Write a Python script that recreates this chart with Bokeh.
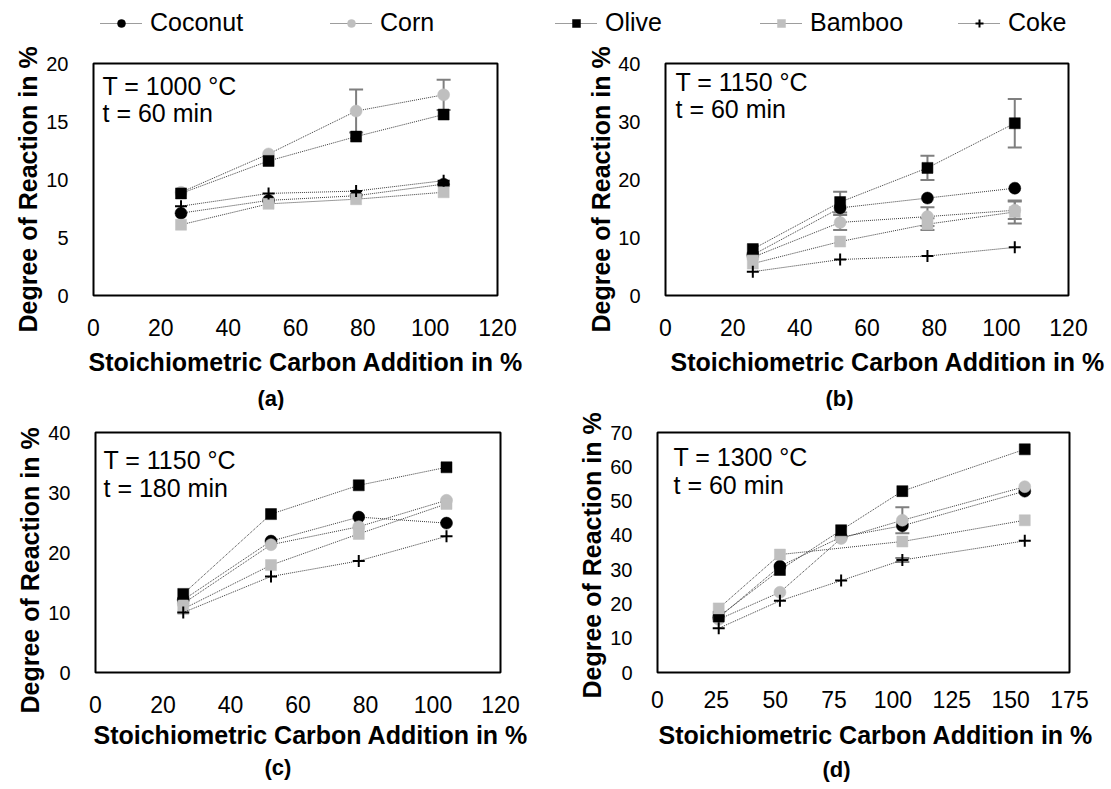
from bokeh.plotting import figure
from bokeh.layouts import column, row
from bokeh.models import (ColumnDataSource, Range1d, FixedTicker, Label, Title,
                          Legend, LegendItem, Whisker, TeeHead)
from bokeh.embed import file_html
from bokeh.resources import INLINE

# ---------------- data ----------------
series = ["Coconut", "Corn", "Olive", "Bamboo", "Coke"]

x_a = [26, 52, 78, 104]
a_coconut = [7.1, 8.2, 8.6, 9.6]
a_corn = [8.9, 12.2, 15.9, 17.3]
a_olive = [8.8, 11.6, 13.7, 15.6]
a_bamboo = [6.1, 7.9, 8.3, 8.9]
a_coke = [7.7, 8.8, 9.0, 9.9]
a_corn_err = [0, 0, 1.85, 1.3]

x_b = [26, 52, 78, 104]
b_coconut = [7.0, 15.1, 16.8, 18.5]
b_corn = [6.6, 12.6, 13.6, 14.7]
b_olive = [8.0, 16.1, 22.0, 29.7]
b_bamboo = [5.5, 9.3, 12.3, 14.4]
b_coke = [4.1, 6.2, 6.8, 8.3]
b_olive_err = [0, 1.8, 2.1, 4.2]
b_corn_err = [0, 1.3, 1.6, 1.5]
b_bamboo_err = [0, 0, 1.0, 2.0]

x_c = [26, 52, 78, 104]
c_coconut = [12.1, 21.9, 25.9, 24.9]
c_corn = [11.5, 21.3, 24.3, 28.7]
c_olive = [13.1, 26.4, 31.2, 34.2]
c_bamboo = [10.6, 17.9, 23.1, 28.1]
c_coke = [10.0, 16.0, 18.6, 22.7]

x_d = [26, 52, 78, 104, 156]
x_d_bamboo = [26, 52, 104, 156]
d_coconut = [16.0, 31.0, 39.5, 42.8, 52.9]
d_corn = [15.5, 23.4, 39.1, 44.4, 54.2]
d_olive = [16.3, 29.9, 41.5, 52.9, 65.1]
d_bamboo = [18.7, 34.4, 38.2, 44.4]
d_coke = [12.9, 20.9, 26.8, 32.8, 38.4]
d_corn_err = [0, 0, 0, 3.8, 0]
d_coke_err = [0, 0, 0, 0.6, 0]

x_ticks_abc = [0, 20, 40, 60, 80, 100, 120]
x_ticks_d = [0, 25, 50, 75, 100, 125, 150, 175]
y_ticks_a = [0, 5, 10, 15, 20]
y_ticks_bc = [0, 10, 20, 30, 40]
y_ticks_d = [0, 10, 20, 30, 40, 50, 60, 70]

x_title = "Stoichiometric Carbon Addition in %"
y_title = "Degree of Reaction in %"

# ---------------- styles ----------------
FONT = "Liberation Sans"
LINE_COLOR = "#3a3a3a"
style = {
    "Coconut": dict(marker="circle", color="black", size=12),
    "Corn": dict(marker="circle", color="#BFBFBF", size=12),
    "Olive": dict(marker="square", color="black", size=11),
    "Bamboo": dict(marker="square", color="#BFBFBF", size=11),
    "Coke": dict(marker="cross", color="black", size=12),
}


def draw_series(p, name, xs, ys, err=None):
    st = style[name]
    src = ColumnDataSource(dict(x=xs, y=ys))
    r_line = p.line("x", "y", source=src, line_color=LINE_COLOR, line_width=1,
                    line_dash="1 1")
    if err is not None:
        ex = [x for x, e in zip(xs, err) if e > 0]
        eu = [y + e for y, e in zip(ys, err) if e > 0]
        el = [y - e for y, e in zip(ys, err) if e > 0]
        esrc = ColumnDataSource(dict(base=ex, upper=eu, lower=el))
        w = Whisker(base="base", upper="upper", lower="lower", source=esrc,
                    dimension="height", line_color="#7F7F7F", line_width=2,
                    upper_head=TeeHead(size=14, line_color="#7F7F7F", line_width=2),
                    lower_head=TeeHead(size=14, line_color="#7F7F7F", line_width=2))
        p.add_layout(w)
    if st["marker"] == "cross":
        r_mark = p.scatter("x", "y", source=src, marker="cross", size=st["size"],
                           line_color="black", line_width=2)
    else:
        r_mark = p.scatter("x", "y", source=src, marker=st["marker"], size=st["size"],
                           fill_color=st["color"], line_color=st["color"], line_width=0.5)
    return r_line, r_mark


def make_panel(width, height, borders, xr, yr, xticks, yticks, cond, sub,
               text_dx, text_dy, ytitle_offset, ytitle_standoff, sub_offset, xstand,
               xtitle_offset, xtitle_standoff, sub_standoff):
    left, right, top, bottom = borders
    p = figure(width=width, height=height, output_backend="svg",
               toolbar_location=None, title=None,
               x_range=Range1d(*xr), y_range=Range1d(*yr),
               min_border_left=left, min_border_right=right,
               min_border_top=top, min_border_bottom=bottom)
    p.grid.visible = False
    p.outline_line_color = "black"
    p.outline_line_width = 2
    p.background_fill_color = "white"
    p.border_fill_color = "white"
    for ax in (p.xaxis[0], p.yaxis[0]):
        ax.axis_line_color = None
        ax.major_tick_line_color = None
        ax.minor_tick_line_color = None
        ax.major_tick_out = 0
        ax.major_tick_in = 0
        ax.minor_tick_out = 0
        ax.major_label_text_font = FONT
        ax.major_label_text_color = "black"
    p.xaxis.ticker = FixedTicker(ticks=xticks)
    p.yaxis.ticker = FixedTicker(ticks=yticks)
    p.xaxis.major_label_text_font_size = "23px"
    p.yaxis.major_label_text_font_size = "20px"
    p.xaxis.major_label_standoff = xstand
    p.yaxis.major_label_standoff = 25

    # axis titles as titles next to the axes (allows shifting them)
    xt = Title(text=x_title, align="left", offset=xtitle_offset, text_font=FONT,
               text_font_size="25px", text_font_style="bold",
               text_color="black", standoff=xtitle_standoff)
    p.add_layout(xt, "below")
    yt = Title(text=y_title, align="left", offset=ytitle_offset, text_font=FONT,
               text_font_size="25px", text_font_style="bold",
               text_color="black", standoff=ytitle_standoff)
    p.add_layout(yt, "left")

    t = Title(text=sub, align="left", offset=sub_offset, text_font=FONT,
              text_font_size="22px", text_font_style="bold",
              text_color="black", standoff=sub_standoff)
    p.add_layout(t, "below")

    fw = width - left - right
    fh = height - top - bottom
    px_x = (xr[1] - xr[0]) / fw
    px_y = (yr[1] - yr[0]) / fh
    for i, line in enumerate(cond):
        p.add_layout(Label(x=xr[0] + text_dx * px_x,
                           y=yr[1] - (text_dy + 28 * i) * px_y,
                           text=line, text_font=FONT, text_font_size="25px",
                           text_color="black", text_baseline="top",
                           text_align="left"))
    return p


# ---------------- panels ----------------
pa = make_panel(555, 365, (93, 58, 18, 107), (0, 120), (0, 20), x_ticks_abc,
                y_ticks_a, ["T = 1000 °C", "t = 60 min"], "(a)", 9, 9, -37, 4, 164,
                23, -5, 15, 0)
for nm, ys, er in [("Coconut", a_coconut, None), ("Corn", a_corn, a_corn_err),
                   ("Olive", a_olive, None), ("Bamboo", a_bamboo, None),
                   ("Coke", a_coke, None)]:
    draw_series(pa, nm, x_a, ys, er)

pb = make_panel(555, 365, (110, 42, 18, 107), (0, 120), (0, 40), x_ticks_abc,
                y_ticks_bc, ["T = 1150 °C", "t = 60 min"], "(b)", 10, 5, -37, 2, 160,
                23, 5, 15, 0)
for nm, ys, er in [("Coconut", b_coconut, None), ("Corn", b_corn, b_corn_err),
                   ("Olive", b_olive, b_olive_err), ("Bamboo", b_bamboo, b_bamboo_err),
                   ("Coke", b_coke, None)]:
    draw_series(pb, nm, x_b, ys, er)

pc = make_panel(555, 378, (95, 55, 22, 116), (0, 120), (0, 40), x_ticks_abc,
                y_ticks_bc, ["T = 1150 °C", "t = 180 min"], "(c)", 8, 13, -41, 4, 169,
                23, -2, 6, 2)
for nm, ys, er in [("Coconut", c_coconut, None), ("Corn", c_corn, None),
                   ("Olive", c_olive, None), ("Bamboo", c_bamboo, None),
                   ("Coke", c_coke, None)]:
    draw_series(pc, nm, x_c, ys, er)

pd_ = make_panel(555, 378, (102, 41, 22, 111), (0, 175), (0, 70), x_ticks_d,
                 y_ticks_d, ["T = 1300 °C", "t = 60 min"], "(d)", 16, 11, -26, 4, 165,
                 18, 1, 16, -3)
draw_series(pd_, "Coconut", x_d, d_coconut)
draw_series(pd_, "Corn", x_d, d_corn, d_corn_err)
draw_series(pd_, "Olive", x_d, d_olive)
draw_series(pd_, "Bamboo", x_d_bamboo, d_bamboo)
draw_series(pd_, "Coke", x_d, d_coke, d_coke_err)

# ---------------- legend strip ----------------
# series of panel (a) drawn outside the visible range, so only the legend shows
pl = figure(width=1110, height=45, output_backend="svg", toolbar_location=None,
            title=None, x_range=Range1d(-1000, -900), y_range=Range1d(-1000, -900),
            min_border=0, x_axis_location=None, y_axis_location=None)
pl.grid.visible = False
pl.outline_line_color = None
legend_x = [100, 330, 555, 760, 958]
for name, lx, ys in zip(series, legend_x,
                        [a_coconut, a_corn, a_olive, a_bamboo, a_coke]):
    r_line, r_mark = draw_series(pl, name, x_a, ys)
    lg = Legend(items=[LegendItem(label=name, renderers=[r_line, r_mark])],
                location=(lx, 8), orientation="horizontal", padding=0,
                margin=0, spacing=0, border_line_color=None,
                background_fill_alpha=0, glyph_width=42, glyph_height=20,
                label_standoff=8, label_text_font=FONT,
                label_text_font_size="25px", label_text_color="black")
    pl.add_layout(lg)

layout = column(pl, row(pa, pb), row(pc, pd_))
open("out.html", "w").write(file_html(layout, INLINE))
